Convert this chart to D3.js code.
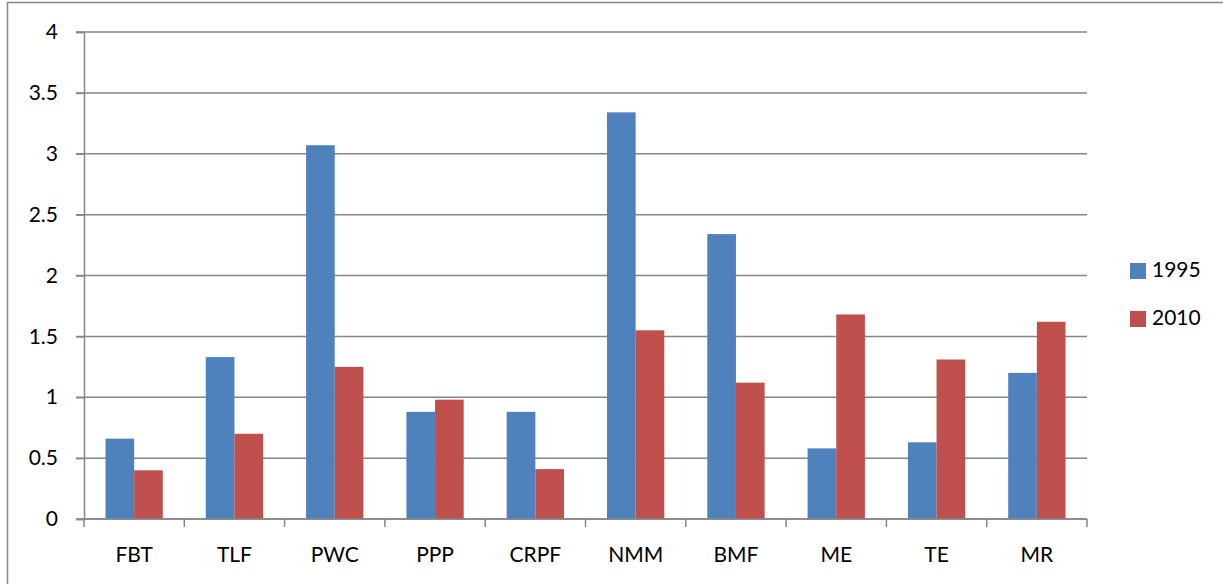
<!DOCTYPE html>
<html>
<head>
<style>
	body { margin: 0; background: #fff; }
	#chart { position: absolute; left: 0; top: 0; }
	text { font-family: Lato, "Open Sans", sans-serif; fill: #000; }
</style>
<script src="https://d3js.org/d3.v7.min.js"></script>
</head>
<body>
<div id="chart"></div>
<script>
	// Data
	var categories = ["FBT", "TLF", "PWC", "PPP", "CRPF", "NMM", "BMF", "ME", "TE", "MR"];
	var seriesNames = ["1995", "2010"];
	var values1995 = [0.66, 1.33, 3.07, 0.88, 0.88, 3.34, 2.34, 0.58, 0.63, 1.20];
	var values2010 = [0.40, 0.70, 1.25, 0.98, 0.41, 1.55, 1.12, 1.68, 1.31, 1.62];
	var yTicks = [0, 0.5, 1, 1.5, 2, 2.5, 3, 3.5, 4];
	var colors = ["#4F81BD", "#C0504D"];

	var width = 1223, height = 584;
	var margin = {top: 32, right: 136, bottom: 65, left: 84};

	var svg = d3.select("#chart").append("svg")
		.attr("width", width)
		.attr("height", height);

	// outer chart border (only top/left visible in the crop)
	svg.append("rect")
		.attr("x", 7.5).attr("y", 2.5)
		.attr("width", width + 20).attr("height", height + 20)
		.attr("fill", "none")
		.attr("stroke", "#868686")
		.attr("stroke-width", 1.5);

	var x = d3.scaleBand()
		.domain(categories)
		.range([margin.left, width - margin.right]);

	var y = d3.scaleLinear()
		.domain([0, 4])
		.range([height - margin.bottom, margin.top]);

	var x1 = d3.scaleBand()
		.domain(seriesNames)
		.range([0, x.bandwidth()])
		.paddingOuter(0.75);

	// gridlines
	svg.append("g")
		.selectAll("line")
		.data(yTicks)
		.enter().append("line")
		.attr("x1", margin.left - 8)
		.attr("x2", width - margin.right)
		.attr("y1", function(d) { return y(d); })
		.attr("y2", function(d) { return y(d); })
		.attr("stroke", "#868686")
		.attr("stroke-width", 1.5);

	// bars
	var series = [values1995, values2010];
	var bars = [];
	series.forEach(function(vals, s) {
		vals.forEach(function(v, i) {
			bars.push({cat: categories[i], s: s, v: v});
		});
	});
	svg.append("g")
		.selectAll("rect")
		.data(bars)
		.enter().append("rect")
		.attr("x", function(d) { return x(d.cat) + x1(seriesNames[d.s]); })
		.attr("y", function(d) { return y(d.v); })
		.attr("width", x1.bandwidth())
		.attr("height", function(d) { return y(0) - y(d.v); })
		.attr("fill", function(d) { return colors[d.s]; });

	// y axis
	var yAxis = svg.append("g")
		.attr("transform", "translate(" + margin.left + ",0)")
		.call(d3.axisLeft(y).tickValues(yTicks).tickSize(8).tickPadding(18)
			.tickFormat(function(d) { return d; }));
	yAxis.select(".domain").attr("stroke", "#868686").attr("stroke-width", 1.5);
	yAxis.selectAll(".tick line").attr("stroke", "#868686").attr("stroke-width", 1.5);
	yAxis.selectAll(".tick text").attr("font-size", "21px").attr("font-family", "Lato, sans-serif").attr("fill", "#000");

	// x axis, ticks on category boundaries
	var xAxisG = svg.append("g")
		.attr("transform", "translate(0," + y(0) + ")");
	xAxisG.append("line")
		.attr("x1", margin.left).attr("x2", width - margin.right)
		.attr("stroke", "#868686").attr("stroke-width", 1.5);
	var bounds = categories.map(function(c) { return x(c); }).concat([width - margin.right]);
	xAxisG.selectAll(".xt")
		.data(bounds)
		.enter().append("line")
		.attr("class", "xt")
		.attr("x1", function(d) { return d; })
		.attr("x2", function(d) { return d; })
		.attr("y1", 0).attr("y2", 8)
		.attr("stroke", "#868686").attr("stroke-width", 1.5);
	xAxisG.selectAll("text")
		.data(categories)
		.enter().append("text")
		.attr("x", function(d) { return x(d) + x.bandwidth() / 2; })
		.attr("y", 43)
		.attr("text-anchor", "middle")
		.attr("font-size", "21px")
		.text(function(d) { return d; });

	// legend
	var legend = svg.append("g")
		.selectAll("g")
		.data(seriesNames)
		.enter().append("g")
		.attr("transform", function(d, i) { return "translate(1130," + (263 + i * 48) + ")"; });
	legend.append("rect")
		.attr("width", 16).attr("height", 16)
		.attr("fill", function(d, i) { return colors[i]; });
	legend.append("text")
		.attr("x", 22).attr("y", 14)
		.attr("font-size", "21px")
		.text(function(d) { return d; });
</script>
</body>
</html>
